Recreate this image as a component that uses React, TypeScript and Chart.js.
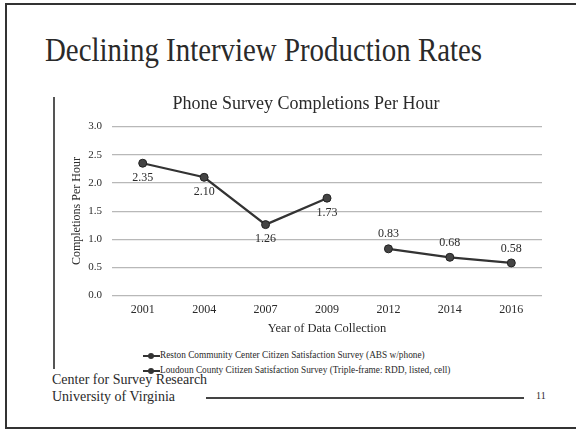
import React, { useEffect, useRef } from "react";
import { Chart, registerables } from "chart.js";

Chart.register(...registerables);

const SLIDE_TITLE = "Declining Interview Production Rates";
const CHART_TITLE = "Phone Survey Completions Per Hour";
const X_TITLE = "Year of Data Collection";
const Y_TITLE = "Completions Per Hour";
const YEARS = ["2001", "2004", "2007", "2009", "2012", "2014", "2016"];
const SERIES_NAMES = [
  "Reston Community Center Citizen Satisfaction Survey (ABS w/phone)",
  "Loudoun County Citizen Satisfaction Survey (Triple-frame: RDD, listed, cell)",
];
const RESTON = [2.35, 2.1, 1.26, 1.73, null, null, null];
const LOUDOUN = [null, null, null, null, 0.83, 0.68, 0.58];
const Y_TICKS = [0, 0.5, 1.0, 1.5, 2.0, 2.5, 3.0];
const FOOTER = ["Center for Survey Research", "University of Virginia"];
const PAGE_NO = "11";

const FONT = "'Liberation Serif', 'Times New Roman', serif";
const INK = "#2a2a2a";

const valueLabels = {
  id: "valueLabels",
  afterDatasetsDraw(chart: any) {
    const ctx = chart.ctx;
    ctx.save();
    ctx.font = `12px ${FONT}`;
    ctx.fillStyle = INK;
    ctx.textAlign = "center";
    ctx.textBaseline = "middle";
    chart.data.datasets.forEach((ds: any, i: number) => {
      const meta = chart.getDatasetMeta(i);
      meta.data.forEach((el: any, j: number) => {
        const v = ds.data[j];
        if (v === null || v === undefined) return;
        const dy = ds.labelPos === "above" ? -14.5 : 14.5;
        ctx.fillText(v.toFixed(2), el.x, el.y + dy);
      });
    });
    ctx.restore();
  },
};

export default function App() {
  const ref = useRef<HTMLCanvasElement>(null);
  useEffect(() => {
    if (!ref.current) return;
    const chart = new Chart(ref.current, {
      type: "line",
      data: {
        labels: YEARS,
        datasets: [
          {
            label: SERIES_NAMES[0],
            data: RESTON,
            borderColor: "#333",
            backgroundColor: "#444",
            pointBorderColor: "#222",
            borderWidth: 2.2,
            pointRadius: 4,
            pointBorderWidth: 1,
            spanGaps: false,
            labelPos: "below",
          } as any,
          {
            label: SERIES_NAMES[1],
            data: LOUDOUN,
            borderColor: "#333",
            backgroundColor: "#444",
            pointBorderColor: "#222",
            borderWidth: 2.2,
            pointRadius: 4,
            pointBorderWidth: 1,
            spanGaps: false,
            labelPos: "above",
          } as any,
        ],
      },
      options: {
        animation: false,
        responsive: false,
        devicePixelRatio: 1,
        layout: { padding: { left: 14, right: 14, top: 0, bottom: 7 } },
        plugins: {
          legend: { display: false },
          tooltip: { enabled: false },
          title: {
            display: true,
            text: CHART_TITLE,
            color: INK,
            font: { family: FONT, size: 18, weight: "normal" },
            padding: { top: 1, bottom: 12 },
          },
        },
        scales: {
          x: {
            offset: true,
            grid: { display: false, drawTicks: false },
            border: { display: false },
            afterFit: (s: any) => {
              s.height -= 5;
            },
            ticks: {
              color: INK,
              padding: 7,
              font: { family: FONT, size: 12 },
            },
            title: {
              display: true,
              text: X_TITLE,
              color: INK,
              font: { family: FONT, size: 12.5 },
              padding: { top: 2, bottom: 0 },
            },
          },
          y: {
            min: 0,
            max: 3,
            afterBuildTicks: (s: any) => {
              s.ticks = Y_TICKS.map((v) => ({ value: v }));
            },
            afterFit: (s: any) => {
              s.width = 42;
            },
            grid: { color: "#b8b8b8", lineWidth: 1.2, drawTicks: false },
            border: { display: false },
            ticks: {
              color: INK,
              padding: 10,
              font: { family: FONT, size: 11 },
              callback: (v: any) => Number(v).toFixed(1),
            },
            title: {
              display: true,
              text: Y_TITLE,
              color: INK,
              font: { family: FONT, size: 12 },
              padding: 0,
            },
          },
        },
      },
      plugins: [valueLabels],
    });
    return () => chart.destroy();
  }, []);

  return (
    <div
      style={{
        position: "absolute",
        left: 0,
        top: 0,
        width: 576,
        height: 431,
        background: "#fff",
        overflow: "hidden",
        fontFamily: FONT,
        color: INK,
      }}
    >
      <div
        style={{
          position: "absolute",
          left: 5,
          top: 3,
          width: 590,
          height: 422,
          border: "2px solid #333",
        }}
      />
      <div
        style={{
          position: "absolute",
          left: 45,
          top: 28,
          fontSize: 33,
          whiteSpace: "nowrap",
          transform: "scaleX(0.875)",
          transformOrigin: "left top",
          lineHeight: "44px",
        }}
      >
        {SLIDE_TITLE}
      </div>
      <div
        style={{
          position: "absolute",
          left: 53,
          top: 97,
          width: 2,
          height: 272,
          background: "#555",
        }}
      />
      <canvas
        ref={ref}
        width={500}
        height={251}
        style={{ position: "absolute", left: 56, top: 92, width: 500, height: 251 }}
      />
      <div style={{ position: "absolute", left: 143, top: 348, fontSize: 9.3, lineHeight: "15px" }}>
        {SERIES_NAMES.map((n) => (
          <div key={n} style={{ display: "flex", alignItems: "center", whiteSpace: "nowrap" }}>
            <span style={{ position: "relative", width: 17, height: 10, display: "inline-block" }}>
              <span style={{ position: "absolute", left: 0, top: 4, width: 17, height: 2, background: "#333" }} />
              <span style={{ position: "absolute", left: 5, top: 2, width: 6, height: 6, borderRadius: 3, background: "#333" }} />
            </span>
            <span>{n}</span>
          </div>
        ))}
      </div>
      <div style={{ position: "absolute", left: 52, top: 371, fontSize: 14, lineHeight: "17px" }}>
        {FOOTER.map((f) => (
          <div key={f}>{f}</div>
        ))}
      </div>
      <div style={{ position: "absolute", left: 206, top: 397, width: 318, height: 1.5, background: "#444" }} />
      <div style={{ position: "absolute", left: 536, top: 390, fontSize: 10 }}>{PAGE_NO}</div>
    </div>
  );
}
